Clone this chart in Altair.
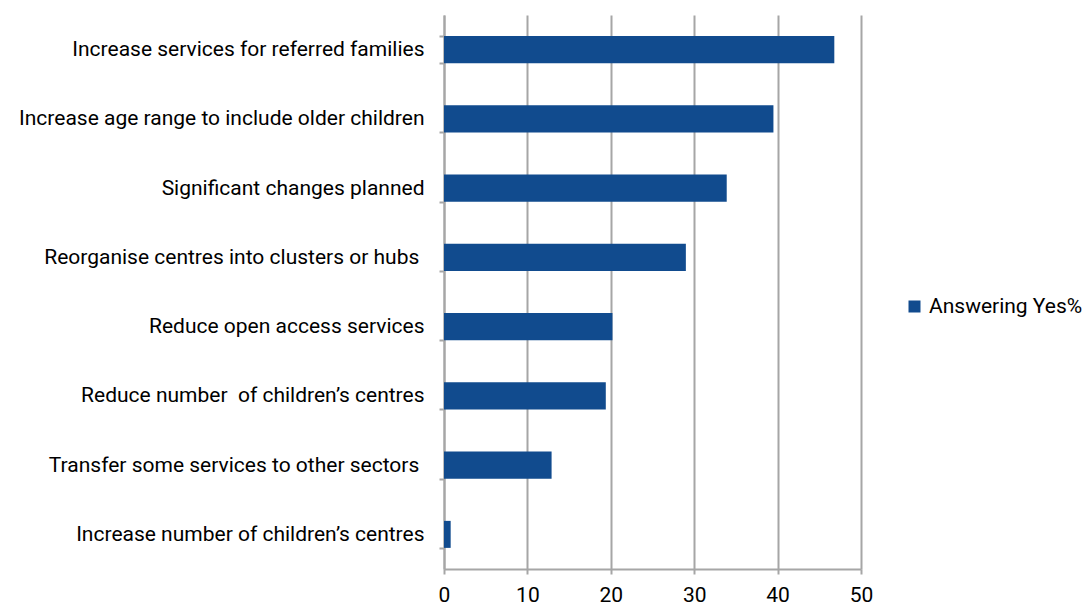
import altair as alt
import pandas as pd

categories = [
    "Increase services for referred families",
    "Increase age range to include older children",
    "Significant changes planned",
    "Reorganise centres into clusters or hubs\u00a0\u200b",
    "Reduce open access services",
    "Reduce number\u00a0 of children\u2019s centres",
    "Transfer some services to other sectors\u00a0\u200b",
    "Increase number of children\u2019s centres",
]
values = [46.8, 39.5, 33.9, 29.0, 20.2, 19.4, 12.9, 0.8]
series = ["Answering Yes%"] * len(categories)

df = pd.DataFrame({"category": categories, "value": values, "series": series})

FONT = "Roboto"
FS = 21
GRID = "#a6a6a6"

chart = alt.Chart(df).mark_bar(color="#114b8e").encode(
    x=alt.X("value:Q",
            scale=alt.Scale(domain=[0, 50], nice=False),
            axis=alt.Axis(title=None, values=[0, 10, 20, 30, 40, 50], grid=True,
                          gridColor=GRID, gridWidth=2, domainColor=GRID, domainWidth=2,
                          tickColor=GRID, tickWidth=2, tickSize=5, labelFlush=False,
                          labelFont=FONT, labelFontSize=FS, labelColor="#000000",
                          labelPadding=10)),
    y=alt.Y("category:N", sort=categories,
            scale=alt.Scale(paddingInner=0.61, paddingOuter=0.305),
            axis=alt.Axis(title=None, tickBand="extent", domainColor=GRID, domainWidth=2,
                          tickColor=GRID, tickWidth=2, tickSize=5,
                          labelFont=FONT, labelFontSize=FS, labelColor="#000000",
                          labelPadding=15, labelLimit=500)),
    color=alt.Color("series:N", scale=alt.Scale(range=["#114b8e"]),
                    legend=alt.Legend(title=None, orient="none", legendX=460, legendY=281,
                                      symbolType="square", symbolSize=144,
                                      symbolStrokeWidth=0,
                                      labelFont=FONT, labelFontSize=FS, labelColor="#000000",
                                      labelOffset=4)),
).properties(
    width=417, height=554,
    autosize="none",
    padding={"left": 444, "top": 15, "right": 224, "bottom": 36},
).configure_view(stroke=None)

chart.save("out.html", embed_options={"renderer": "svg", "actions": False})
